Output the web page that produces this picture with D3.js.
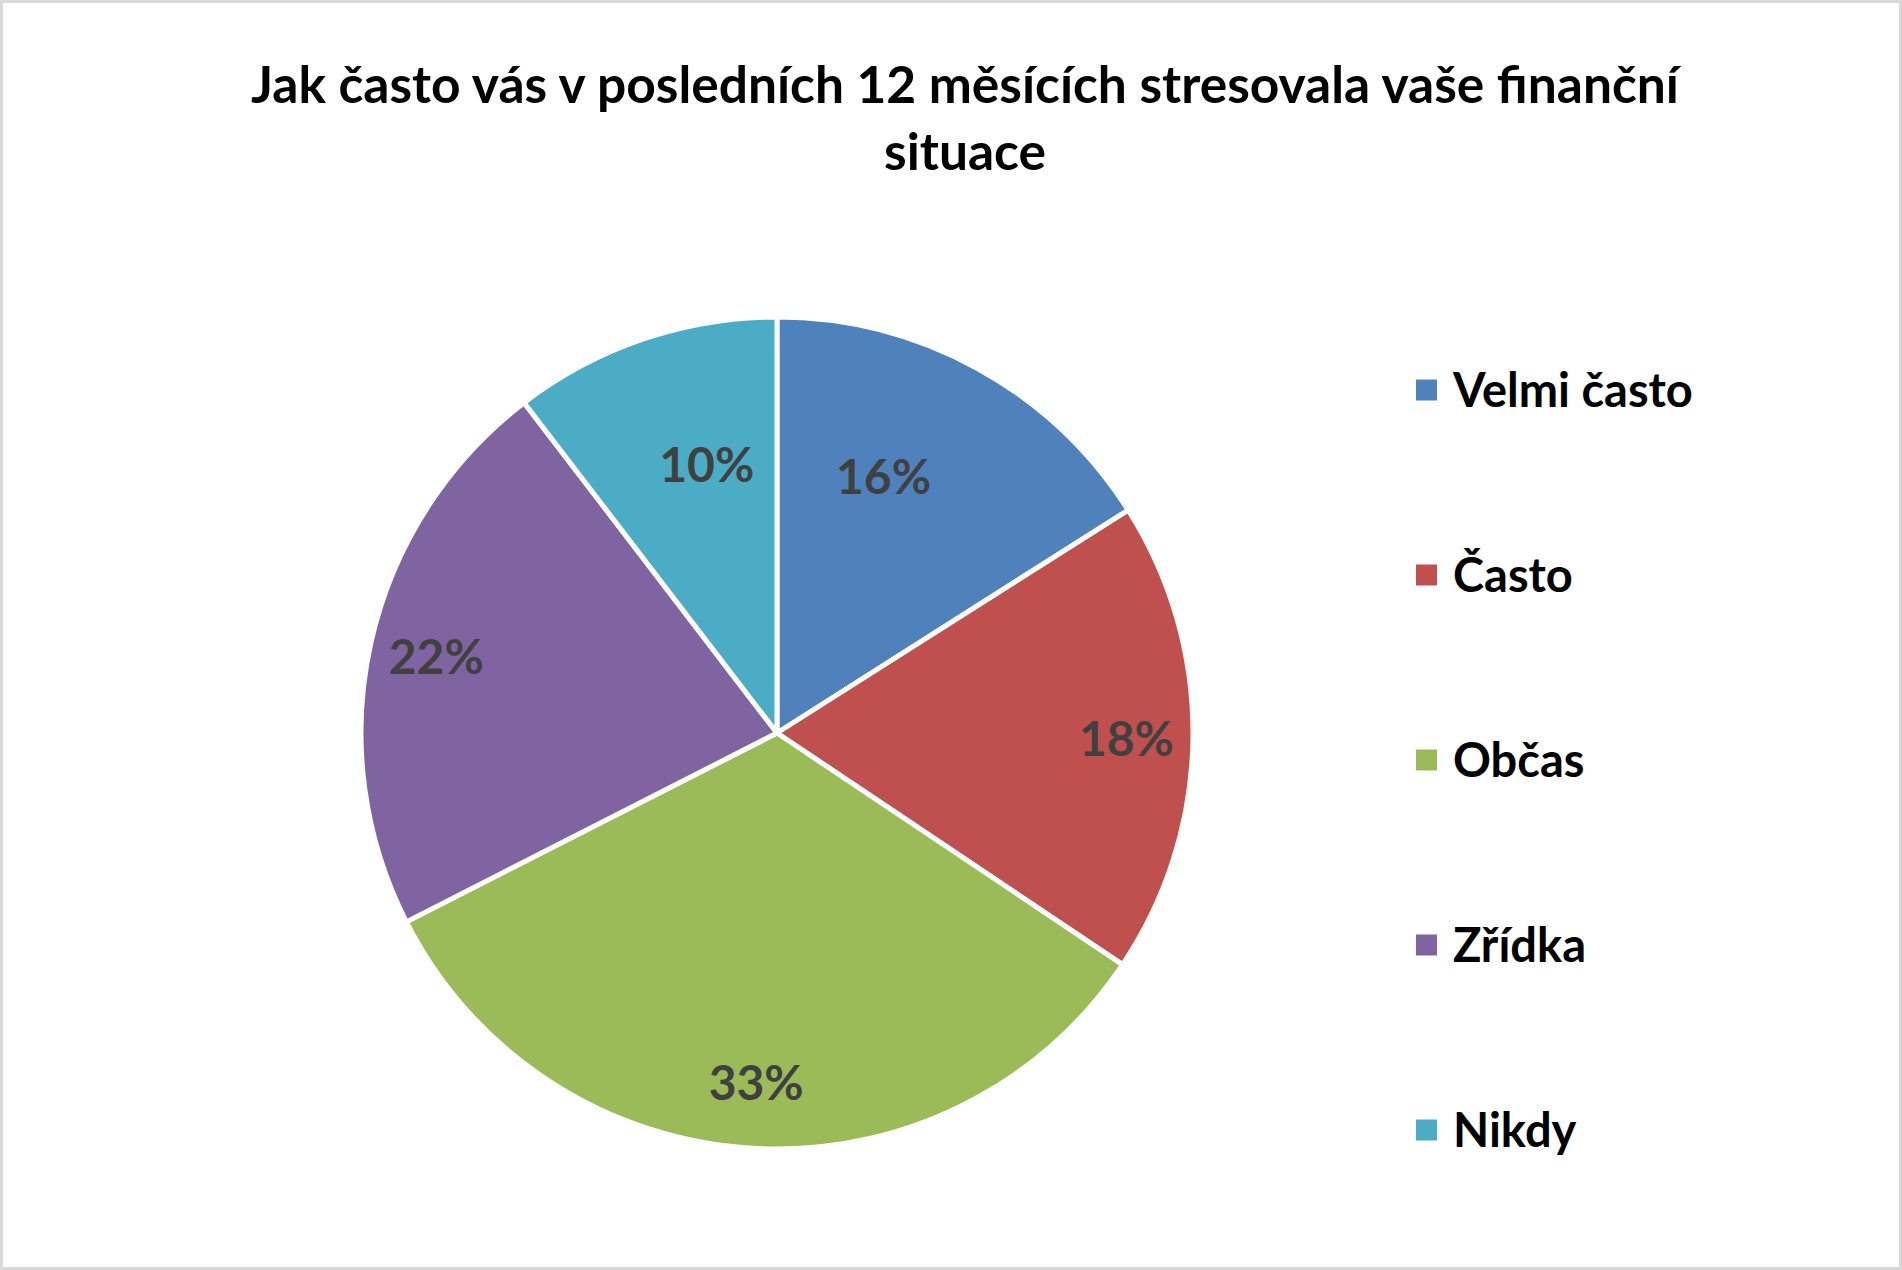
<!DOCTYPE html>
<html>
<head>
<meta charset="utf-8">
<script src="https://cdn.jsdelivr.net/npm/d3@7"></script>
<style>
  html, body { margin: 0; padding: 0; background: #fff; }
  svg { display: block; }
</style>
</head>
<body>
<script>
// data
var categories = ['Velmi často', 'Často', 'Občas', 'Zřídka', 'Nikdy'];
var values = [16.0, 18.4, 33.1, 22.1, 10.4];
var colors = ['#4F81BD', '#C0504D', '#9BBB59', '#8064A2', '#4BACC6'];
var titleLines = ['Jak často vás v posledních 12 měsících stresovala vaše finanční', 'situace'];

var width = 1902;
var height = 1270;
var cx = 777, cy = 733, radius = 416;
var font = 'Lato, "Open Sans", sans-serif';

var svg = d3.select('body')
            .append('svg')
            .attr('width', width)
            .attr('height', height);

// chart border
svg.append('rect')
   .attr('x', 1.5)
   .attr('y', 1.5)
   .attr('width', width - 3)
   .attr('height', height - 3)
   .attr('fill', '#fff')
   .attr('stroke', '#d9d9d9')
   .attr('stroke-width', 3);

// title
svg.append('text')
   .attr('x', 965)
   .attr('y', 103)
   .attr('text-anchor', 'middle')
   .attr('font-family', font)
   .attr('font-weight', 'bold')
   .attr('font-size', '51.5px')
   .attr('fill', '#000')
   .selectAll('tspan')
   .data(titleLines)
   .enter().append('tspan')
   .attr('x', 965)
   .attr('dy', function(d, i){ return i === 0 ? 0 : 67; })
   .text(function(d){ return d; });

var rows = categories.map(function(c, i){
    return {name: c, value: values[i], color: colors[i]};
});
var total = d3.sum(values);

var pie = d3.pie()
            .sort(null)
            .value(function(d){ return d.value; });

var arc = d3.arc()
            .innerRadius(0)
            .outerRadius(radius);

var arcs = pie(rows);

var g = svg.append('g')
           .attr('transform', 'translate(' + cx + ',' + cy + ')');

g.selectAll('path')
 .data(arcs)
 .enter().append('path')
 .attr('d', arc)
 .attr('fill', function(d){ return d.data.color; })
 .attr('stroke', '#fff')
 .attr('stroke-width', 5)
 .attr('stroke-linejoin', 'round');

// data labels: slices near the top get pulled inward, like Excel's best fit
function labelPos(d){
    var mid = (d.startAngle + d.endAngle) / 2;
    var near = Math.cos(mid) > 0.75;
    var r = radius * (near ? 0.67 : 0.84);
    if (near) mid = mid * 0.78 + (mid > Math.PI ? 2 * Math.PI : 0) * 0.22;
    return [Math.sin(mid) * r, -Math.cos(mid) * r];
}

g.selectAll('text.label')
 .data(arcs)
 .enter().append('text')
 .attr('class', 'label')
 .attr('x', function(d){ return labelPos(d)[0]; })
 .attr('y', function(d){ return labelPos(d)[1]; })
 .attr('dy', '0.38em')
 .attr('text-anchor', 'middle')
 .attr('font-family', font)
 .attr('font-weight', 'bold')
 .attr('font-size', '48px')
 .attr('fill', '#404040')
 .text(function(d){ return Math.round(d.data.value / total * 100) + '%'; });

// legend
var legendY = d3.scalePoint()
                .domain(categories)
                .range([390, 1130]);

var legend = svg.selectAll('g.legend')
                .data(rows)
                .enter().append('g')
                .attr('class', 'legend')
                .attr('transform', function(d){
                    return 'translate(1416,' + legendY(d.name) + ')';
                });

legend.append('rect')
      .attr('x', 0)
      .attr('y', -10.5)
      .attr('width', 21)
      .attr('height', 21)
      .attr('fill', function(d){ return d.color; });

legend.append('text')
      .attr('x', 37)
      .attr('y', 0)
      .attr('dy', '0.36em')
      .attr('font-family', font)
      .attr('font-weight', 'bold')
      .attr('font-size', '47px')
      .attr('fill', '#000')
      .text(function(d){ return d.name; });
</script>
</body>
</html>
